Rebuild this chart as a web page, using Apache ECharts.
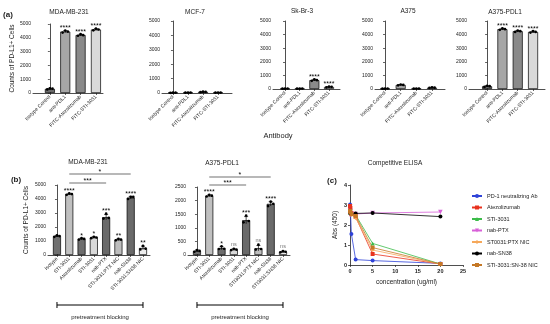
<!DOCTYPE html>
<html><head><meta charset="utf-8">
<script src="https://cdn.jsdelivr.net/npm/echarts@6/dist/echarts.min.js"></script>
<style>html,body{margin:0;padding:0;background:#fff}#c{width:550px;height:324px}</style>
</head><body><div id="c"></div>
<script>
// ---------- Panel (a) data ----------
const aCategories = ['Isotype Control', 'anti-PDL1', 'FITC-Atezolizumab', 'FITC-STI-3031'];
const aTitles = ['MDA-MB-231', 'MCF-7', 'Sk-Br-3', 'A375', 'A375-PDL1'];
const aMdaMeans = [300, 4450, 4200, 4600];
const aMdaReps = [[260, 330, 310], [4380, 4520, 4450], [4150, 4260, 4190], [4540, 4660, 4600]];
const aMdaSig = ['', '****', '****', '****'];
const aMcfMeans = [20, 30, 80, 30];
const aMcfReps = [[15, 22, 25], [25, 30, 35], [60, 95, 85], [25, 35, 30]];
const aMcfSig = ['', '', '', ''];
const aSkMeans = [30, 30, 650, 150];
const aSkReps = [[25, 30, 35], [25, 30, 35], [600, 710, 650], [120, 170, 160]];
const aSkSig = ['', '', '****', '****'];
const aA375Means = [30, 300, 30, 100];
const aA375Reps = [[25, 30, 35], [270, 330, 300], [25, 30, 35], [80, 120, 100]];
const aA375Sig = ['', '', '', ''];
const aPdl1Means = [200, 4400, 4250, 4200];
const aPdl1Reps = [[150, 240, 210], [4350, 4460, 4400], [4200, 4300, 4250], [4150, 4250, 4200]];
const aPdl1Sig = ['', '****', '****', '****'];

// ---------- Panel (b) data ----------
const bMdaCategories = ['Isotype', 'STI-3031', 'Atezolizumab', 'STI-3031', 'nab-PTX', 'STI-3031:PTX NIC', 'nab-SN38', 'STI-3031:SN38 NIC'];
const bA375Categories = ['Isotype', 'STI-3031', 'Atezolizumab', 'STI-3031', 'nab-PTX', 'STI3031:PTX NIC', 'nab-SN38', 'STI3031:SN38 NIC'];
const bMdaMeans = [1350, 4350, 1150, 1250, 2700, 1100, 4100, 500];
const bMdaReps = [[1300, 1400, 1350], [4300, 4400, 4350], [1100, 1200, 1150], [1200, 1300, 1250], [2600, 2950, 2650], [1050, 1150, 1100], [4000, 4150, 4150], [400, 650, 450]];
const bMdaSig = ['', '****', '*', '*', '***', '**', '****', '**'];
const bA375Means = [150, 2180, 250, 200, 1280, 250, 1880, 120];
const bA375Reps = [[120, 180, 150], [2150, 2210, 2180], [220, 320, 230], [180, 230, 200], [1200, 1450, 1250], [200, 380, 220], [1800, 1960, 1880], [100, 140, 120]];
const bA375Sig = ['', '****', '*', 'ns', '***', 'ns', '****', 'ns'];
const bBrackets = [[1, 4, '***'], [1, 6, '*']];

// ---------- Panel (c) data ----------
const cConcentrations = [0.02, 0.08, 0.31, 1.25, 5, 20];
const cNames = ['PD-1 neutralizing Ab', 'Atezolizumab', 'STI-3031', 'nab-PTX', 'ST0031:PTX NIC', 'nab-SN38', 'STI-3031:SN-38 NIC'];
const cPd1 = [3.03, 2.8, 1.55, 0.27, 0.22, 0.08];
const cAtezo = [2.95, 2.85, 2.6, 2.4, 0.55, 0.05];
const cSti = [2.6, 2.62, 2.6, 2.5, 1.08, 0.05];
const cNabPtx = [2.5, 2.55, 2.55, 2.55, 2.6, 2.65];
const cPtxNic = [2.65, 2.6, 2.5, 2.35, 0.75, 0.04];
const cNabSn38 = [2.62, 2.6, 2.55, 2.58, 2.6, 2.42];
const cSn38Nic = [2.7, 2.65, 2.55, 2.45, 0.87, 0.05];

// ---------- styling ----------
const FONT = "'Liberation Sans', Arial, sans-serif";
const TXT = '#222';
const aColors = ['#6c6c6c', '#a6a6a6', '#8a8a8a', '#d9d9d9'];
const bColors = ['#707070', '#c0c0c0', '#6e6e6e', '#d9d9d9', '#6a6a6a', '#bdbdbd', '#6a6a6a', '#ededed'];
const cColors = ['#2f43d8', '#e8321e', '#3cbc4a', '#d860d8', '#f6a85a', '#000000', '#c57826'];
const cSymbols = ['circle', 'rect', 'triangle', 'path://M0,0 L10,0 L5,9 Z', 'diamond', 'circle', 'rect'];

const chart = echarts.init(document.getElementById('c'));

const grids = [
  { left: 33, top: 24, width: 70, height: 69 },
  { left: 162, top: 21, width: 70, height: 72 },
  { left: 273, top: 21, width: 67, height: 68 },
  { left: 375, top: 21, width: 70, height: 68 },
  { left: 469, top: 21, width: 76, height: 68 },
  { left: 48, top: 185, width: 102, height: 70 },
  { left: 188, top: 187, width: 102, height: 68 },
  { left: 350, top: 185, width: 113, height: 80 }
];
const xRanges = [[-1.1, 3.46], [-0.73, 3.93], [-0.82, 3.75], [-0.64, 3.83], [-1.18, 3.78], [-0.73, 7.57], [-0.73, 7.57]];

const axisLineStyle = { lineStyle: { color: '#222', width: 0.8 } };

function xCat(gi, cats, fs) {
  const idx = cats.map((c, i) => i);
  return {
    type: 'value', gridIndex: gi, min: xRanges[gi][0], max: xRanges[gi][1],
    splitLine: { show: false }, axisLine: axisLineStyle,
    axisTick: { show: true, length: 2, customValues: idx, lineStyle: { color: '#222', width: 0.7 } },
    axisLabel: { customValues: idx, formatter: v => cats[Math.round(v)] || '', rotate: 45, fontSize: fs, margin: 3, color: TXT, fontFamily: FONT }
  };
}
function yVal(gi, max, interval, name, gap) {
  return {
    type: 'value', gridIndex: gi, min: 0, max: max, interval: interval,
    splitLine: { show: false }, axisLine: { show: true, lineStyle: { color: '#222', width: 0.8 } },
    axisTick: { show: true, length: 2, lineStyle: { color: '#222', width: 0.7 } },
    axisLabel: { fontSize: 5, margin: 2, color: TXT, fontFamily: FONT, formatter: v => String(v) },
    name: name || '', nameLocation: 'middle', nameGap: gap || 15,
    nameTextStyle: { fontSize: 6.5, color: TXT, fontFamily: FONT }
  };
}

function extras(sig) {
  return function (params, api) {
    const i = api.value(0), m = api.value(1);
    const reps = [api.value(2), api.value(3), api.value(4)];
    const mu = (reps[0] + reps[1] + reps[2]) / 3;
    const sd = Math.sqrt(reps.reduce((s, r) => s + (r - mu) * (r - mu), 0) / 2);
    const base = api.coord([i, m]);
    const top = api.coord([i, m + sd]);
    const bot = api.coord([i, Math.max(0, m - sd)]);
    const ch = [];
    ch.push({ type: 'line', shape: { x1: base[0], y1: bot[1], x2: base[0], y2: top[1] }, style: { stroke: '#000', lineWidth: 0.7 } });
    ch.push({ type: 'line', shape: { x1: base[0] - 2, y1: top[1], x2: base[0] + 2, y2: top[1] }, style: { stroke: '#000', lineWidth: 0.7 } });
    let minY = top[1];
    reps.forEach((r, j) => {
      const p = api.coord([i, r]);
      minY = Math.min(minY, p[1]);
      ch.push({ type: 'circle', shape: { cx: p[0] + (j - 1) * 2.6, cy: p[1], r: 1.35 }, style: { fill: '#000' } });
    });
    const s = sig[params.dataIndex];
    if (s) {
      ch.push({ type: 'text', style: { text: s, x: base[0], y: minY - (s === 'ns' ? 1.5 : -1), textAlign: 'center', textVerticalAlign: 'bottom', fontSize: s === 'ns' ? 5.5 : 7, fontFamily: FONT, fill: s === 'ns' ? '#777' : '#000' } });
    }
    return { type: 'group', children: ch };
  };
}

function barPanel(gi, means, reps, sig, colors, barW) {
  return [
    {
      type: 'bar', xAxisIndex: gi, yAxisIndex: gi, barWidth: barW, silent: true,
      itemStyle: { borderColor: '#000', borderWidth: 0.7 },
      data: means.map((m, i) => ({ value: [i, m], itemStyle: { color: colors[i] } }))
    },
    {
      type: 'custom', xAxisIndex: gi, yAxisIndex: gi, clip: false, z: 5, silent: true,
      encode: { x: 0, y: 1 },
      data: means.map((m, i) => [i, m].concat(reps[i])),
      renderItem: extras(sig)
    }
  ];
}

function bracketSeries(gi, offsets) {
  return {
    type: 'custom', xAxisIndex: gi, yAxisIndex: gi, clip: false, silent: true,
    encode: { x: [0, 1] },
    data: bBrackets.map(b => [b[0], b[1]]),
    renderItem: function (params, api) {
      const y = params.coordSys.y - offsets[params.dataIndex];
      const p1 = api.coord([api.value(0), 0]), p2 = api.coord([api.value(1), 0]);
      const label = bBrackets[params.dataIndex][2];
      return {
        type: 'group', children: [
          { type: 'line', shape: { x1: p1[0], y1: y, x2: p2[0], y2: y }, style: { stroke: '#333', lineWidth: 0.7 } },
          { type: 'text', style: { text: label, x: (p1[0] + p2[0]) / 2, y: y + 1.5, textAlign: 'center', textVerticalAlign: 'bottom', fontSize: 7, fontFamily: FONT, fill: '#000' } }
        ]
      };
    }
  };
}

function blockingSeries(gi, first, last) {
  return {
    type: 'custom', xAxisIndex: gi, yAxisIndex: gi, clip: false, silent: true,
    encode: { x: [0, 1] },
    data: [[first, last]],
    renderItem: function (params, api) {
      const y = params.coordSys.y + params.coordSys.height + 50;
      const p1 = api.coord([api.value(0), 0]), p2 = api.coord([api.value(1), 0]);
      return {
        type: 'group', children: [
          { type: 'line', shape: { x1: p1[0], y1: y, x2: p2[0], y2: y }, style: { stroke: '#000', lineWidth: 1 } },
          { type: 'line', shape: { x1: p1[0], y1: y - 3, x2: p1[0], y2: y + 3 }, style: { stroke: '#000', lineWidth: 1 } },
          { type: 'line', shape: { x1: p2[0], y1: y - 3, x2: p2[0], y2: y + 3 }, style: { stroke: '#000', lineWidth: 1 } },
          { type: 'text', style: { text: 'pretreatment blocking', x: (p1[0] + p2[0]) / 2, y: y + 12, textAlign: 'center', textVerticalAlign: 'middle', fontSize: 6, fontFamily: FONT, fill: TXT } }
        ]
      };
    }
  };
}

const cSeriesData = [cPd1, cAtezo, cSti, cNabPtx, cPtxNic, cNabSn38, cSn38Nic];
const cSeries = cSeriesData.map((arr, k) => ({
  type: 'line', name: cNames[k], xAxisIndex: 7, yAxisIndex: 7,
  data: arr.map((v, i) => [cConcentrations[i], v]),
  symbol: cSymbols[k], symbolSize: k === 3 ? 4.5 : 4, showSymbol: true,
  lineStyle: { color: cColors[k], width: 0.8 }, itemStyle: { color: cColors[k] }
}));

function txt(text, x, y, size, weight, align) {
  return { type: 'text', x: x, y: y, silent: true, style: { text: text, textAlign: align || 'center', textVerticalAlign: 'middle', fontSize: size, fontWeight: weight || 'normal', fontFamily: FONT, fill: TXT } };
}

const option = {
  animation: false,
  backgroundColor: '#fff',
  grid: grids,
  xAxis: [
    xCat(0, aCategories, 5), xCat(1, aCategories, 5), xCat(2, aCategories, 5), xCat(3, aCategories, 5), xCat(4, aCategories, 5),
    xCat(5, bMdaCategories, 5), xCat(6, bA375Categories, 5),
    {
      type: 'value', gridIndex: 7, min: 0, max: 25, interval: 5, splitLine: { show: false }, axisLine: axisLineStyle,
      axisTick: { length: 2, lineStyle: { color: '#222', width: 0.7 } },
      axisLabel: { fontSize: 5.5, fontWeight: 'bold', margin: 3, color: TXT, fontFamily: FONT },
      name: 'concentration (ug/ml)', nameLocation: 'middle', nameGap: 14,
      nameTextStyle: { fontSize: 6.5, color: TXT, fontFamily: FONT }
    }
  ],
  yAxis: [
    yVal(0, 5000, 1000, 'Counts of PD-L1+ Cells', 16), yVal(1, 5000, 1000), yVal(2, 5000, 1000), yVal(3, 5000, 1000), yVal(4, 5000, 1000),
    yVal(5, 5000, 1000, 'Counts of PD-L1+ Cells', 18), yVal(6, 2500, 500),
    {
      type: 'value', gridIndex: 7, min: 0, max: 4, interval: 1, splitLine: { show: false },
      axisLine: { show: true, lineStyle: { color: '#222', width: 0.8 } },
      axisTick: { show: true, length: 2, lineStyle: { color: '#222', width: 0.7 } },
      axisLabel: { fontSize: 5.5, fontWeight: 'bold', margin: 3, color: TXT, fontFamily: FONT },
      name: 'Abs (450)', nameLocation: 'middle', nameGap: 11,
      nameTextStyle: { fontSize: 6.5, color: TXT, fontFamily: FONT }
    }
  ],
  legend: {
    orient: 'vertical', left: 466, top: 188, itemWidth: 10, itemHeight: 5, itemGap: 5.5,
    textStyle: { fontSize: 5.5, color: TXT, fontFamily: FONT },
    data: cNames
  },
  graphic: [
    txt('(a)', 8, 15, 8, 'bold'),
    txt('(b)', 16, 180, 8, 'bold'),
    txt('(c)', 332, 181, 8, 'bold'),
    txt(aTitles[0], 69, 12, 6.5), txt(aTitles[1], 195, 12, 6.5), txt(aTitles[2], 302, 11, 6.5),
    txt(aTitles[3], 408, 11, 6.5), txt(aTitles[4], 505, 12, 6.5),
    txt('Antibody', 278, 136, 7.5),
    txt('MDA-MB-231', 88, 162, 6.5), txt('A375-PDL1', 222, 163, 6.5),
    txt('Competitive ELISA', 395, 163, 6.5)
  ],
  series: [].concat(
    barPanel(0, aMdaMeans, aMdaReps, aMdaSig, aColors, 10),
    barPanel(1, aMcfMeans, aMcfReps, aMcfSig, aColors, 10),
    barPanel(2, aSkMeans, aSkReps, aSkSig, aColors, 10),
    barPanel(3, aA375Means, aA375Reps, aA375Sig, aColors, 10),
    barPanel(4, aPdl1Means, aPdl1Reps, aPdl1Sig, aColors, 10),
    barPanel(5, bMdaMeans, bMdaReps, bMdaSig, bColors, 8),
    barPanel(6, bA375Means, bA375Reps, bA375Sig, bColors, 8),
    [bracketSeries(5, [2, 11]), bracketSeries(6, [2, 10]), blockingSeries(5, 0, 7), blockingSeries(6, 0, 7)],
    cSeries
  )
};
chart.setOption(option);
</script></body></html>
